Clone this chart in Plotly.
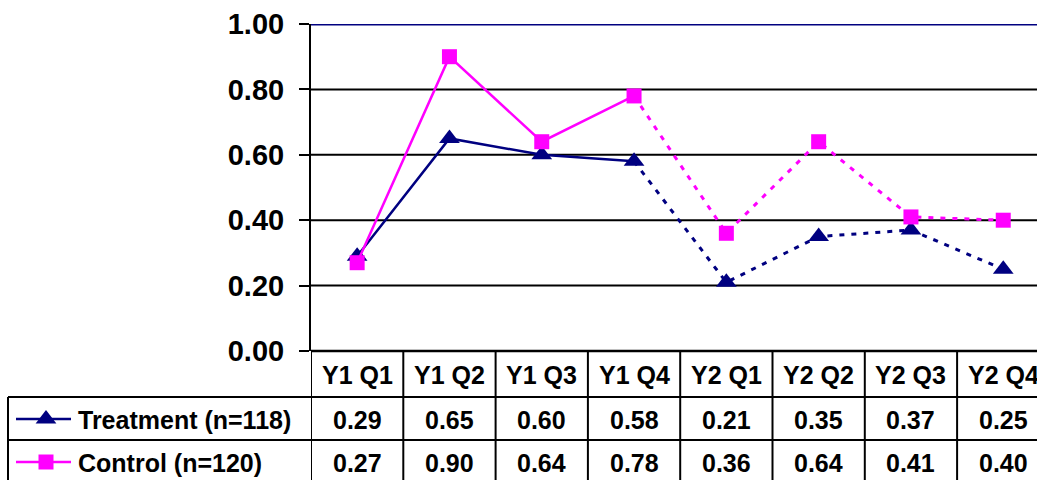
import plotly.graph_objects as go

categories = ["Y1 Q1", "Y1 Q2", "Y1 Q3", "Y1 Q4", "Y2 Q1", "Y2 Q2", "Y2 Q3", "Y2 Q4"]
treatment = [0.29, 0.65, 0.60, 0.58, 0.21, 0.35, 0.37, 0.25]
control = [0.27, 0.90, 0.64, 0.78, 0.36, 0.64, 0.41, 0.40]
series_names = ["Treatment (n=118)", "Control (n=120)"]
y_ticks = [0.0, 0.2, 0.4, 0.6, 0.8, 1.0]

NAVY = "#000080"
MAGENTA = "#FF00FF"
FONT = "Arial, Liberation Sans, sans-serif"
W, H = 1037, 480
TXT = 25

xs = list(range(len(categories)))
solid_n = 4  # first four quarters solid, rest dotted

plot_left, plot_top, plot_bottom = 311, 24, 351
cat_w = 92.3
x_hi = -0.5 + (W - plot_left) / cat_w

fig = go.Figure()

series = [
    (treatment, NAVY, "triangle-up", 18),
    (control, MAGENTA, "square", 15),
]
for vals, col, sym, sz in series:
    fig.add_trace(go.Scatter(x=xs[:solid_n], y=vals[:solid_n], mode="lines",
                             line=dict(color=col, width=2.5), showlegend=False))
    fig.add_trace(go.Scatter(x=xs[solid_n - 1:], y=vals[solid_n - 1:], mode="lines",
                             line=dict(color=col, width=3, dash="5px,7px"), showlegend=False))
    fig.add_trace(go.Scatter(x=xs, y=vals, mode="markers",
                             marker=dict(symbol=sym, size=sz, color=col, line=dict(width=0)),
                             showlegend=False))

# legend markers in the table (pixel overlay axes)
leg_rows_y = [419, 462]
for (vals, col, sym, sz), yy in zip(series, leg_rows_y):
    fig.add_trace(go.Scatter(x=[16, 71], y=[yy, yy], mode="lines", line=dict(color=col, width=2.5),
                             xaxis="x2", yaxis="y2", showlegend=False))
    fig.add_trace(go.Scatter(x=[46], y=[yy], mode="markers",
                             marker=dict(symbol=sym, size=sz, color=col, line=dict(width=0)),
                             xaxis="x2", yaxis="y2", showlegend=False))

shapes = []
# gridlines
for t in y_ticks[1:-1]:
    shapes.append(dict(type="line", xref="x", yref="y", x0=-0.5, x1=x_hi + 1, y0=t, y1=t,
                       line=dict(color="black", width=2), layer="below"))
shapes.append(dict(type="line", xref="x", yref="y", x0=-0.5, x1=x_hi + 1, y0=1, y1=1,
                   line=dict(color=NAVY, width=3), layer="below"))

# table lines
row_y = [351, 397, 440, 486]
for i in range(len(categories) + 1):
    shapes.append(dict(type="line", xref="x", yref="y2", x0=i - 0.5, x1=i - 0.5,
                       y0=row_y[0], y1=row_y[3], line=dict(color="black", width=2)))
shapes.append(dict(type="line", xref="x2", yref="y2", x0=plot_left, x1=W + 20, y0=row_y[0], y1=row_y[0],
                   line=dict(color="black", width=2.5)))
for ry in row_y[1:3]:
    shapes.append(dict(type="line", xref="x2", yref="y2", x0=8, x1=W + 20, y0=ry, y1=ry,
                       line=dict(color="black", width=2)))
shapes.append(dict(type="line", xref="x2", yref="y2", x0=8, x1=8, y0=row_y[1], y1=row_y[3],
                   line=dict(color="black", width=2)))

annotations = []
hdr_y = (row_y[0] + row_y[1]) / 2 + 1
for i, c in enumerate(categories):
    annotations.append(dict(x=i, y=hdr_y, xref="x", yref="y2", text=c, showarrow=False,
                            font=dict(family=FONT, size=TXT, color="black"), xanchor="center", yanchor="middle"))
for vals, yy, name in zip([treatment, control], leg_rows_y, series_names):
    annotations.append(dict(x=76, y=yy + 1, xref="x2", yref="y2", text=name, showarrow=False,
                            font=dict(family=FONT, size=TXT, color="black"), xanchor="left", yanchor="middle"))
    for i, v in enumerate(vals):
        annotations.append(dict(x=i, y=yy + 1, xref="x", yref="y2", text=f"{v:.2f}", showarrow=False,
                                font=dict(family=FONT, size=TXT, color="black"), xanchor="center", yanchor="middle"))

fig.update_layout(
    template="none",
    width=W, height=H,
    margin=dict(l=0, r=0, t=0, b=0, pad=0),
    paper_bgcolor="white", plot_bgcolor="rgba(0,0,0,0)",
    font=dict(family=FONT, color="black"),
    showlegend=False,
    xaxis=dict(domain=[plot_left / W, 1], range=[-0.5, x_hi], showgrid=False, zeroline=False,
               showticklabels=False, showline=False, ticks="", automargin=False, anchor="y"),
    yaxis=dict(domain=[1 - plot_bottom / H, 1 - plot_top / H], range=[0, 1], tickvals=y_ticks,
               ticktext=[f"<b>{t:.2f}</b>" for t in y_ticks], tickfont=dict(family=FONT, size=29, color="black"),
               showgrid=False, zeroline=False, showline=True, linecolor="black", linewidth=2,
               ticks="outside", ticklen=10, tickwidth=2, tickcolor="black", ticklabelstandoff=9,
               automargin=False, anchor="x"),
    xaxis2=dict(domain=[0, 1], range=[0, W], visible=False, anchor="y2", automargin=False),
    yaxis2=dict(domain=[0, 1], range=[H, 0], visible=False, anchor="x2", automargin=False),
    shapes=shapes,
    annotations=[dict(a, text=f"<b>{a['text']}</b>") for a in annotations],
)

fig.write_html("out.html")
